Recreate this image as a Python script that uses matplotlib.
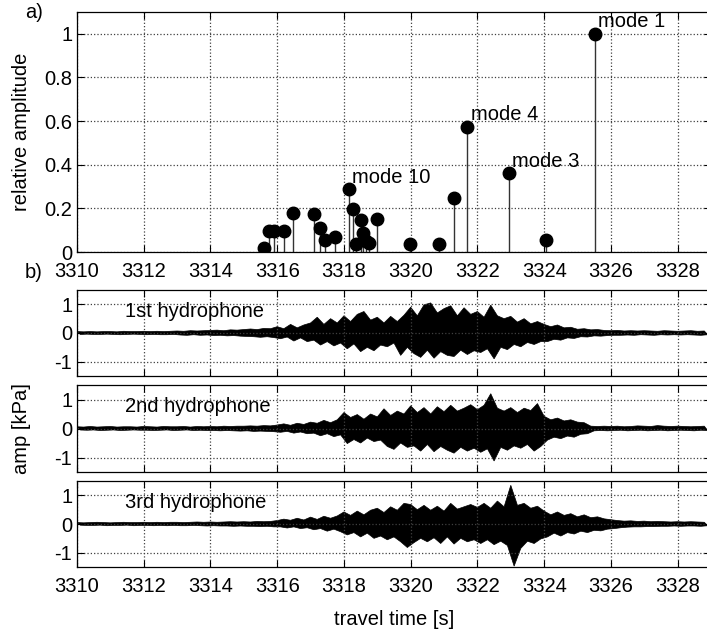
import numpy as np
import matplotlib.pyplot as plt

plt.rcParams['font.family'] = ['Liberation Sans', 'DejaVu Sans']
plt.rcParams['font.size'] = 14.5

# a) modal arrivals: travel time [s] and relative amplitude
mode_time = [3315.60, 3315.75, 3315.90, 3316.21, 3316.48, 3317.09, 3317.29,
             3317.44, 3317.73, 3318.15, 3318.28, 3318.35, 3318.50, 3318.57,
             3318.65, 3318.76, 3318.98, 3319.97, 3320.86, 3321.30, 3321.70,
             3322.95, 3324.06, 3325.51]
mode_amp = [0.02, 0.097, 0.094, 0.097, 0.18, 0.175, 0.11,
            0.055, 0.071, 0.288, 0.195, 0.035, 0.148, 0.085,
            0.05, 0.04, 0.15, 0.038, 0.038, 0.248, 0.575,
            0.36, 0.056, 1.0]
label_text = ['mode 10', 'mode 4', 'mode 3', 'mode 1']
label_time = [3318.15, 3321.70, 3322.95, 3325.51]
label_amp = [0.288, 0.575, 0.36, 1.0]

# b) hydrophone records, read as max / min per 0.2 s window from 3310 s
t0 = 3310.0
dt = 0.2
upper1 = [0.05, 0.04, 0.05, 0.04, 0.05, 0.05, 0.04, 0.06, 0.05, 0.05,
          0.06, 0.05, 0.06, 0.05, 0.06, 0.07, 0.06, 0.08, 0.07, 0.08,
          0.09, 0.10, 0.08, 0.11, 0.10, 0.12, 0.14, 0.12, 0.16, 0.15,
          0.22, 0.15, 0.30, 0.18, 0.28, 0.35, 0.55, 0.30, 0.50, 0.35,
          0.60, 0.40, 0.65, 0.75, 0.45, 0.55, 0.35, 0.58, 0.40, 0.62,
          0.90, 0.60, 0.98, 1.05, 0.70, 0.85, 0.95, 0.60, 0.88, 0.65,
          0.75, 0.55, 0.97, 0.60, 0.50, 0.58, 0.38, 0.50, 0.32, 0.40,
          0.30, 0.22, 0.28, 0.18, 0.20, 0.13, 0.15, 0.11, 0.12, 0.09,
          0.08, 0.09, 0.07, 0.08, 0.07, 0.08, 0.07, 0.06, 0.08, 0.07,
          0.06, 0.07, 0.08, 0.06, 0.07]
lower1 = [-0.05, -0.04, -0.05, -0.05, -0.04, -0.05, -0.06, -0.05, -0.04, -0.05,
          -0.06, -0.05, -0.06, -0.06, -0.05, -0.07, -0.08, -0.06, -0.08, -0.07,
          -0.09, -0.08, -0.10, -0.09, -0.11, -0.12, -0.13, -0.15, -0.13, -0.16,
          -0.20, -0.14, -0.28, -0.17, -0.30, -0.25, -0.42, -0.30, -0.45, -0.35,
          -0.55, -0.38, -0.65, -0.50, -0.62, -0.42, -0.48, -0.35, -0.78, -0.50,
          -0.72, -0.85, -0.60, -0.88, -0.65, -0.78, -0.82, -0.60, -0.75, -0.62,
          -0.68, -0.55, -0.90, -0.50, -0.58, -0.40, -0.48, -0.33, -0.40, -0.30,
          -0.30, -0.22, -0.25, -0.17, -0.19, -0.13, -0.14, -0.10, -0.11, -0.09,
          -0.08, -0.08, -0.07, -0.08, -0.06, -0.07, -0.08, -0.06, -0.07, -0.06,
          -0.07, -0.06, -0.07, -0.08, -0.06]
upper2 = [0.06, 0.05, 0.07, 0.05, 0.06, 0.07, 0.05, 0.06, 0.06, 0.05,
          0.07, 0.06, 0.05, 0.07, 0.06, 0.06, 0.07, 0.05, 0.07, 0.06,
          0.07, 0.06, 0.08, 0.07, 0.08, 0.08, 0.09, 0.08, 0.10, 0.09,
          0.12, 0.16, 0.11, 0.18, 0.14, 0.22, 0.18, 0.28, 0.20, 0.30,
          0.55, 0.38, 0.48, 0.32, 0.50, 0.40, 0.68, 0.45, 0.60, 0.50,
          0.78, 0.55, 0.72, 0.50, 0.75, 0.58, 0.80, 0.60, 0.70, 0.82,
          0.65, 0.80, 1.20, 0.70, 0.60, 0.72, 0.55, 0.70, 0.62, 0.86,
          0.42, 0.30, 0.36, 0.26, 0.30, 0.22, 0.20, 0.08, 0.07, 0.08,
          0.07, 0.08, 0.06, 0.07, 0.09, 0.08, 0.07, 0.10, 0.08, 0.07,
          0.08, 0.07, 0.06, 0.07, 0.08]
lower2 = [-0.05, -0.06, -0.05, -0.07, -0.06, -0.05, -0.07, -0.06, -0.05, -0.06,
          -0.06, -0.07, -0.06, -0.05, -0.07, -0.06, -0.05, -0.07, -0.06, -0.07,
          -0.07, -0.08, -0.07, -0.08, -0.09, -0.08, -0.10, -0.09, -0.10, -0.11,
          -0.13, -0.10, -0.16, -0.12, -0.18, -0.16, -0.25, -0.18, -0.28, -0.22,
          -0.52, -0.38, -0.50, -0.33, -0.45, -0.40, -0.62, -0.72, -0.50, -0.65,
          -0.60, -0.78, -0.55, -0.80, -0.62, -0.75, -0.85, -0.65, -0.78, -0.68,
          -0.82, -0.70, -1.12, -0.65, -0.75, -0.60, -0.68, -0.55, -0.78, -0.62,
          -0.40, -0.30, -0.35, -0.26, -0.30, -0.20, -0.18, -0.08, -0.07, -0.08,
          -0.07, -0.06, -0.08, -0.07, -0.06, -0.08, -0.07, -0.06, -0.08, -0.07,
          -0.06, -0.07, -0.08, -0.06, -0.07]
upper3 = [0.05, 0.04, 0.05, 0.06, 0.05, 0.04, 0.05, 0.06, 0.05, 0.05,
          0.06, 0.05, 0.06, 0.05, 0.06, 0.06, 0.05, 0.06, 0.07, 0.06,
          0.07, 0.06, 0.07, 0.08, 0.07, 0.08, 0.07, 0.09, 0.08, 0.09,
          0.12, 0.17, 0.13, 0.20, 0.14, 0.24, 0.16, 0.27, 0.20, 0.28,
          0.42, 0.30, 0.45, 0.32, 0.48, 0.55, 0.40, 0.60, 0.48, 0.72,
          0.68, 0.50, 0.65, 0.48, 0.62, 0.45, 0.72, 0.52, 0.60, 0.68,
          0.58, 0.72, 0.55, 0.80, 0.60, 1.35, 0.65, 0.72, 0.55, 0.62,
          0.45, 0.32, 0.42, 0.30, 0.36, 0.25, 0.32, 0.22, 0.25, 0.18,
          0.15, 0.12, 0.10, 0.11, 0.09, 0.10, 0.08, 0.09, 0.08, 0.07,
          0.08, 0.07, 0.08, 0.07, 0.06]
lower3 = [-0.04, -0.05, -0.05, -0.04, -0.06, -0.05, -0.05, -0.04, -0.06, -0.05,
          -0.05, -0.06, -0.05, -0.06, -0.05, -0.06, -0.06, -0.05, -0.06, -0.07,
          -0.06, -0.07, -0.07, -0.08, -0.07, -0.08, -0.08, -0.09, -0.08, -0.10,
          -0.10, -0.14, -0.10, -0.16, -0.13, -0.20, -0.16, -0.25, -0.18, -0.27,
          -0.38, -0.30, -0.45, -0.32, -0.50, -0.42, -0.55, -0.45, -0.62, -0.82,
          -0.65, -0.50, -0.62, -0.48, -0.68, -0.45, -0.70, -0.50, -0.62, -0.55,
          -0.68, -0.55, -0.72, -0.60, -0.75, -1.47, -0.85, -0.60, -0.68, -0.52,
          -0.45, -0.32, -0.42, -0.30, -0.35, -0.25, -0.30, -0.22, -0.24, -0.18,
          -0.16, -0.13, -0.11, -0.10, -0.10, -0.09, -0.09, -0.08, -0.08, -0.07,
          -0.08, -0.07, -0.07, -0.08, -0.06]
traces = [(upper1, lower1, '1st hydrophone'),
          (upper2, lower2, '2nd hydrophone'),
          (upper3, lower3, '3rd hydrophone')]

xticks = list(range(3310, 3329, 2))
W, H = 707, 630


def box(x0, y0, x1, y1):
    # pixel box (top-left origin) -> figure fraction
    return [x0 / W, 1 - y1 / H, (x1 - x0) / W, (y1 - y0) / H]


def style(ax):
    ax.set_xlim(3310, 3329)
    ax.set_xticks(xticks)
    ax.grid(True, linestyle=':', color='0.25', linewidth=0.9)
    ax.tick_params(direction='in', top=True, right=True, length=5, width=0.8)
    ax.tick_params(axis='x', pad=7)
    for s in ax.spines.values():
        s.set_linewidth(0.9)


fig = plt.figure(figsize=(7.07, 6.3), dpi=100)

ax = fig.add_axes(box(77, 12, 711, 252))
style(ax)
ml, sl, bl = ax.stem(mode_time, mode_amp, linefmt='k-', markerfmt='ko', basefmt=' ')
plt.setp(sl, linewidth=1.0, color='0.2')
plt.setp(ml, markersize=9)
for txt, t, a in zip(label_text, label_time, label_amp):
    ax.text(t + 0.1, a + 0.055, txt, ha='left', va='center')
ax.set_ylim(0, 1.1)
ax.set_yticks([0, 0.2, 0.4, 0.6, 0.8, 1])
ax.set_yticklabels(['0', '0.2', '0.4', '0.6', '0.8', '1'])
ax.set_ylabel('relative amplitude')
ax.yaxis.set_label_coords(-0.072, 0.5)

rows = [(290, 376), (385, 472), (481, 567)]
axes_b = []
for (y0, y1), (up, lo, name) in zip(rows, traces):
    axb = fig.add_axes(box(77, y0, 711, y1))
    style(axb)
    t_up = t0 + dt * np.arange(len(up))
    t_lo = t_up + dt / 2
    # band between the max and min readings of each window
    axb.fill(np.concatenate([t_up, t_lo[::-1]]), np.concatenate([up, lo[::-1]]),
             facecolor='k', edgecolor='k', linewidth=0.5)
    axb.set_ylim(-1.5, 1.5)
    axb.set_yticks([-1, 0, 1])
    axb.set_yticklabels(['-1', '0', '1'])
    axb.text(3311.45, 0.76, name, ha='left', va='center')
    axes_b.append(axb)

axes_b[0].set_xticklabels([])
axes_b[1].set_xticklabels([])
axes_b[1].set_ylabel('amp [kPa]')
axes_b[1].yaxis.set_label_coords(-0.072, 0.5)
axes_b[2].set_xlabel('travel time [s]', labelpad=10)

fig.text(25 / W, 1 - 12 / H, 'a)', ha='left', va='center')
fig.text(25 / W, 1 - 273 / H, 'b)', ha='left', va='center')

fig.savefig('out.png', dpi=100)
